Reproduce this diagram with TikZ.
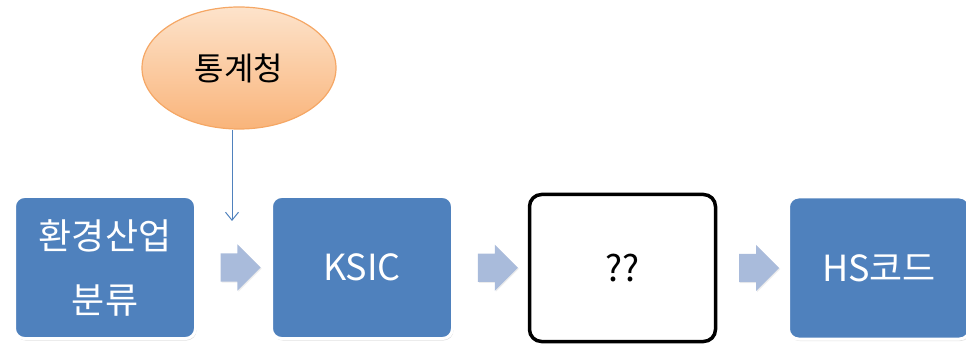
\documentclass[tikz,border=0pt]{standalone}
\usepackage{fontspec}
\setmainfont{Noto Sans CJK KR}
\usetikzlibrary{shapes.geometric, shapes.arrows, shadows, arrows.meta, calc}

\definecolor{boxblue}{HTML}{4F81BD}
\definecolor{arrowblue}{HTML}{A9BBDB}
\definecolor{orangeline}{HTML}{F5A765}
\definecolor{orangetop}{HTML}{FDE3CB}
\definecolor{orangebottom}{HTML}{F9B47A}

\begin{document}
\begin{tikzpicture}[x = 1pt, y = -1pt,
        bluebox/.style = {minimum width = 181pt, minimum height = 142pt, fill = boxblue, draw = white, line width = 3pt,
                          rounded corners = 10pt, text = white, font = \fontsize{36}{64}\selectfont, align = center,
                          drop shadow = {opacity = 0.25, shadow xshift = 1pt, shadow yshift = -2pt}},
        emptybox/.style = {minimum width = 186pt, minimum height = 147pt, draw = black, line width = 3.5pt,
                           rounded corners = 12pt, font = \fontsize{36}{40}\selectfont},
        blockarrow/.style = {single arrow, fill = arrowblue, minimum height = 40pt, inner xsep = 0pt, inner ysep = 14pt,
                             single arrow head extend = 9pt, drop shadow = {opacity = 0.15, shadow xshift = 1pt, shadow yshift = -1pt}}]
    \useasboundingbox (0, 0) rectangle (966, 347);
    % boxes
    \node[bluebox] (env) at (105, 267.5) {환경산업\\분류};
    \node[bluebox] (ksic) at (362, 267.5) {KSIC};
    \node[emptybox] (unknown) at (622.5, 268) {??};
    \node[bluebox] (hs) at (879, 268) {HS코드};
    % block arrows
    \node[blockarrow] (a1) at ($(env.east)!0.5!(ksic.west)$) {};
    \node[blockarrow] (a2) at ($(ksic.east)!0.5!(unknown.west)$) {};
    \node[blockarrow] (a3) at ($(unknown.east)!0.5!(hs.west)$) {};
    % source
    \node[ellipse, minimum width = 194pt, minimum height = 122pt, draw = orangeline, line width = 1.2pt,
          top color = orangetop, bottom color = orangebottom, font = \fontsize{32}{36}\selectfont] (stat) at (239, 68) {통계청};
    \coordinate (tip) at (232, 221);
    \draw[boxblue, line width = 1pt, -{Straight Barb[length = 8pt, width = 13pt]}] (stat.south -| tip) -- (tip);
\end{tikzpicture}
\end{document}
